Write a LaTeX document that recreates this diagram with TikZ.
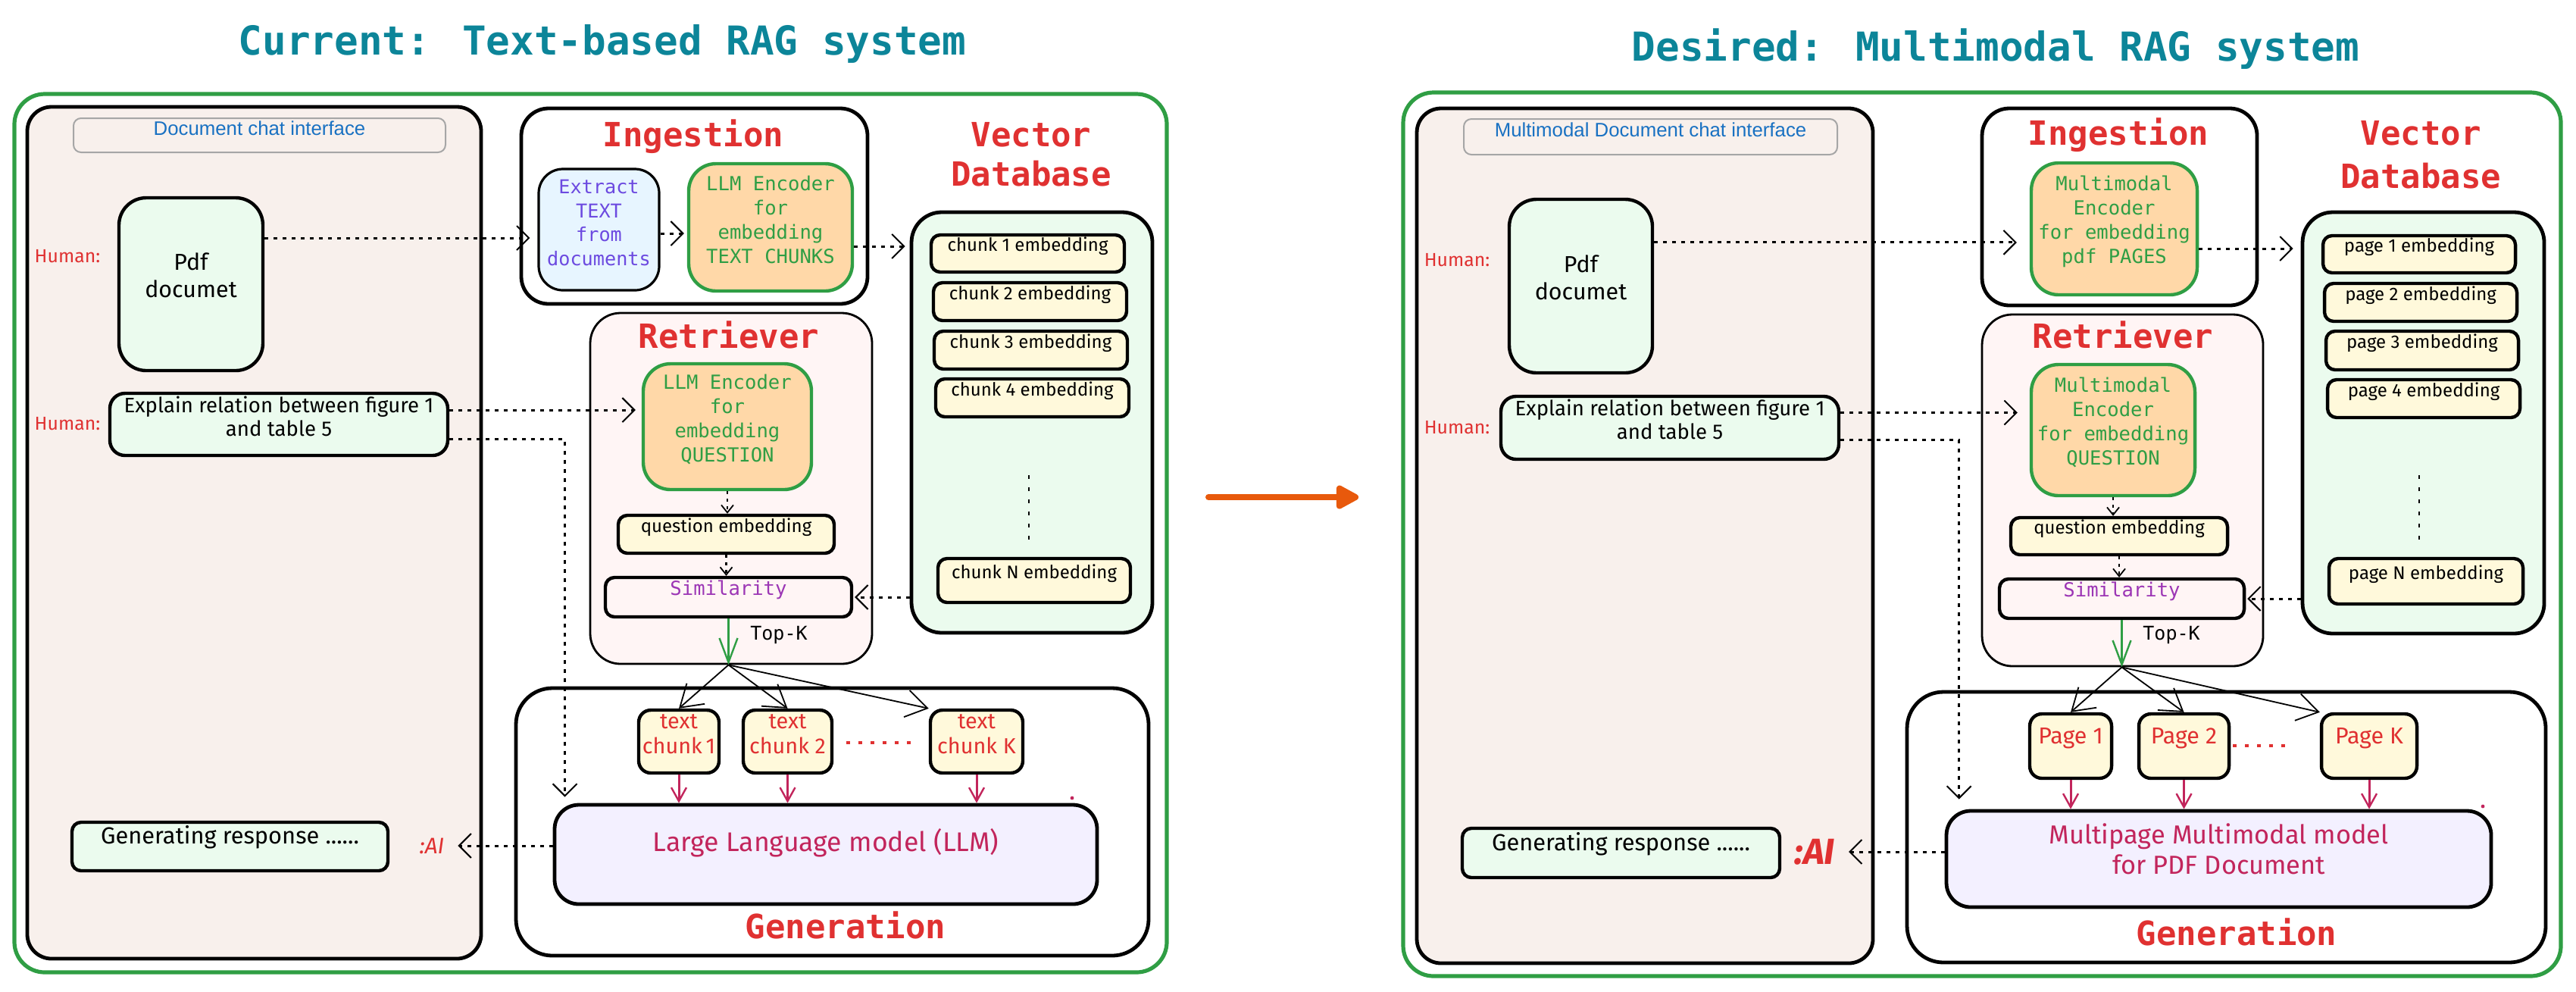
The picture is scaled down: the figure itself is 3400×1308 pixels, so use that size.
\documentclass[tikz,border=0pt]{standalone}
\usepackage{fontspec}
\setmainfont{Fira Sans}
\newfontfamily\hand{Fira Sans}
\newfontfamily\code{DejaVu Sans Mono}
\newfontfamily\ui{Liberation Sans}
\usetikzlibrary{fit,arrows.meta}
\definecolor{xgreen}{HTML}{2F9E44}
\definecolor{xteal}{HTML}{0C8599}
\definecolor{xred}{HTML}{E03131}
\definecolor{chatbg}{HTML}{F8F0EC}
\definecolor{lgreen}{HTML}{EBFBEE}
\definecolor{lblue}{HTML}{E7F5FF}
\definecolor{xviolet}{HTML}{6C4AE0}
\definecolor{orangefill}{HTML}{FFD8A8}
\definecolor{lyellow}{HTML}{FFF9DB}
\definecolor{pinkfill}{HTML}{FFF5F5}
\definecolor{xpurple}{HTML}{9C36B5}
\definecolor{lavender}{HTML}{F3F0FF}
\definecolor{xrose}{HTML}{C2255C}
\definecolor{uiblue}{HTML}{1971C2}
\definecolor{xorange}{HTML}{E8590C}
\begin{document}
\begin{tikzpicture}[x=0.25pt,y=-0.25pt,
  outer/.style={draw=xgreen,line width=1.3pt,rounded corners=10pt,inner sep=0pt},
  panel/.style={draw=black,fill=chatbg,line width=1.2pt,rounded corners=8pt,inner sep=0pt},
  uibox/.style={draw=gray!70,line width=0.5pt,rounded corners=2.5pt,inner sep=0pt,text=uiblue,font=\ui\fontsize{6.45}{8}\selectfont},
  hgreen/.style={draw=black,fill=lgreen,line width=1.1pt,inner sep=0pt,align=center,font=\hand\fontsize{6.9}{7.75}\selectfont},
  human/.style={text=xred,font=\hand\fontsize{6.2}{7}\selectfont},
  aitext/.style={text=xred,font=\hand\itshape\fontsize{7.4}{9}\selectfont},
  group/.style={draw=black,fill=white,line width=1.2pt,rounded corners=9pt,inner sep=0pt},
  heading/.style={text=xred,font=\code\bfseries\fontsize{11}{13.75}\selectfont},
  title/.style={text=xteal,font=\code\bfseries\fontsize{13.15}{16}\selectfont},
  extract/.style={draw=black,fill=lblue,line width=0.8pt,rounded corners=8pt,inner sep=0pt,align=center,text=xviolet,font=\code\fontsize{6.3}{7.9}\selectfont},
  enc/.style={draw=xgreen,fill=orangefill,line width=1.1pt,rounded corners=9pt,inner sep=0pt,align=center,text=xgreen,font=\code\fontsize{6.4}{8}\selectfont},
  vdb/.style={draw=black,fill=lgreen,line width=1.2pt,rounded corners=10pt,inner sep=0pt},
  chunk/.style={draw=black,fill=lyellow,line width=1.1pt,rounded corners=3pt,inner sep=0pt,font=\hand\fontsize{6.0}{8}\selectfont},
  retr/.style={draw=black,fill=pinkfill,line width=0.7pt,rounded corners=10pt,inner sep=0pt},
  sim/.style={draw=black,fill=pinkfill,line width=1.1pt,rounded corners=3pt,inner sep=0pt,text=xpurple,font=\code\fontsize{6.4}{8}\selectfont},
  topk/.style={text=black,font=\code\fontsize{6.25}{8}\selectfont},
  tchunk/.style={draw=black,fill=lyellow,line width=1.1pt,rounded corners=4pt,inner sep=0pt,align=center,text=xred,font=\hand\fontsize{7.2}{8.2}\selectfont},
  llm/.style={draw=black,fill=lavender,line width=1.2pt,rounded corners=8pt,inner sep=0pt,align=center,text=xrose,font=\hand\fontsize{8.9}{10}\selectfont},
  dotarrow/.style={draw=black,line width=0.75pt,dash pattern=on 1.25pt off 1.75pt,-{Straight Barb[length=4pt,width=8pt,line width=0.5pt]}},
  shortarrow/.style={draw=black,line width=0.6pt,dash pattern=on 1pt off 1.5pt,-{Straight Barb[length=2.5pt,width=4pt,line width=0.45pt]}},
  fanarrow/.style={draw=black,line width=0.45pt,-{Straight Barb[length=7pt,width=9pt,line width=0.45pt]}},
  redarrow/.style={draw=xrose,line width=0.75pt,-{Straight Barb[length=4.5pt,width=5pt,line width=0.6pt]}},
  greenarrow/.style={draw=xgreen,line width=0.6pt,-{Straight Barb[length=8pt,width=6pt,line width=0.6pt]}},
  vdots/.style={draw=black,line width=0.6pt,dash pattern=on 1.2pt off 2.8pt},
  reddots/.style={draw=xred,line width=1.2pt,dash pattern=on 1.2pt off 2.8pt},
  bigarrow/.style={draw=xorange,line width=2pt,line cap=round,-{Triangle[length=8.5pt,width=8.5pt,round]}}
]
\useasboundingbox (0,0) rectangle (3400,1308);

%================ LEFT =================
\node[outer, fit={(19,124) (1540,1283)}] (Lout) {};
\node[title, anchor=base] (Ltitle) at (795,72) {Current: Text-based RAG system};
\node[panel, fit={(36,141) (635,1265)}] (Lpanel) {};
\node[uibox, fit={(97,156) (588,201)}] (Lui) {Document chat interface};
\node[hgreen, rounded corners=9pt, font=\hand\fontsize{7.6}{9}\selectfont, fit={(157,261) (347,489)}] (Lpdf) {Pdf\\documet};
\node[human] (Lh1) at (89,338) {Human:};
\node[hgreen, rounded corners=5pt, fit={(145,519) (591,601)}] (Lexp) {Explain relation between figure 1\\and table 5};
\node[human] (Lh2) at (89,559) {Human:};
\node[hgreen, rounded corners=3pt, font=\hand\fontsize{7.7}{9}\selectfont, fit={(95,1085) (512,1149)}] (Lgen) {Generating response ......};
\node[aitext] (Lai) at (570,1116) {:AI};

\node[group, fit={(688,143) (1145,401)}] (Ling) {};
\node[heading, anchor=base] (Lingt) at (915,193) {Ingestion};
\node[extract, fit={(711,223) (870,383)}] (Lext) {Extract\\TEXT\\from\\documents};
\node[enc, fit={(909,216) (1125,384)}] (Lenc) {LLM Encoder\\for\\embedding\\TEXT CHUNKS};

\node[heading, anchor=base] (Lvt1) at (1361,193) {Vector};
\node[heading, anchor=base] (Lvt2) at (1361,245) {Database};
\node[vdb, fit={(1203,280) (1521,835)}] (Lvdb) {};
\node[chunk, fit={(1229,310) (1484,359)}] (Lc1) {chunk 1 embedding};
\node[chunk, fit={(1232,373) (1487,423)}] (Lc2) {chunk 2 embedding};
\node[chunk, fit={(1233,437) (1488,487)}] (Lc3) {chunk 3 embedding};
\node[chunk, fit={(1235,500) (1490,550)}] (Lc4) {chunk 4 embedding};
\node[chunk, fit={(1238,737) (1492,795)}] (LcN) {chunk N embedding};
\draw[vdots] (1358,627) -- (1358,717);

\node[retr, fit={(779,413) (1151,876)}] (Lret) {};
\node[heading, anchor=base] (Lrett) at (962,459) {Retriever};
\node[enc, fit={(849,480) (1071,646)}] (Lencq) {LLM Encoder\\for\\embedding\\QUESTION};
\node[chunk, fit={(816,680) (1101,730)}] (Lqe) {question embedding};
\node[sim, fit={(799,762) (1124,814)}] (Lsim) {Similarity};
\node[topk] (Ltopk) at (1028,838) {Top-K};

\node[group, rounded corners=12pt, fit={(681,908) (1516,1261)}] (Lgenr) {};
\node[heading, anchor=base] (Lgent) at (1116,1238) {Generation};
\node[tchunk, fit={(843,937) (949,1020)}] (Lch1) {text\\chunk\,1};
\node[tchunk, fit={(981,937) (1098,1020)}] (Lch2) {text\\chunk 2};
\node[tchunk, fit={(1228,937) (1350,1020)}] (Lchk) {text\\chunk K};
\draw[reddots] (1117,980) -- (1206,980);
\node[llm, fit={(732,1062) (1448,1193)}] (Lllm) {Large Language model (LLM)};
\fill[xrose] (1415,1053) circle (0.6pt);

% left connectors
\coordinate (Lp1) at ([yshift=15.25pt]Lpdf.east);
\draw[dotarrow, shorten >=2.5pt] (Lp1) -- (Lp1 -| Lext.west);
\coordinate (Lx1) at ([yshift=-1.25pt]Lext.east);
\draw[dotarrow, shorten >=1pt] (Lx1) -- (Lx1 -| Lenc.west);
\coordinate (Le1) at ([yshift=-6.25pt]Lenc.east);
\draw[dotarrow, shorten >=1.5pt] (Le1) -- (Le1 -| Lvdb.west);
\coordinate (Lq1) at ([yshift=4.75pt]Lexp.east);
\draw[dotarrow, shorten >=2pt] (Lq1) -- (Lq1 -| Lencq.west);
\coordinate (Lq2) at ([yshift=-4.75pt]Lexp.east);
\coordinate (Lq2e) at ([xshift=4pt,yshift=2pt]Lllm.north west);
\draw[dotarrow] (Lq2) -| (Lq2e);
\draw[dotarrow, shorten >=0.5pt] (Lvdb.west |- Lsim.east) -- (Lsim.east);
\draw[shortarrow] (Lencq.south) -- (Lencq.south |- Lqe.north);
\draw[shortarrow] (Lqe.south) -- (Lqe.south |- Lsim.north);
\coordinate (Lfan) at (Lsim.south |- Lret.south);
\draw[greenarrow] (Lsim.south) -- (Lfan);
\draw[fanarrow] (Lfan) -- (Lch1.north);
\draw[fanarrow] (Lfan) -- (Lch2.north);
\draw[fanarrow] (Lfan) -- (Lchk.north west);
\draw[redarrow] (Lch1.south) -- (Lch1.south |- Lllm.north);
\draw[redarrow] (Lch2.south) -- (Lch2.south |- Lllm.north);
\draw[redarrow] (Lchk.south) -- (Lchk.south |- Lllm.north);
\draw[dotarrow, shorten >=1pt] (Lllm.west |- Lai) -- (Lai.east);

%================ MIDDLE ARROW =================
\coordinate (Ma) at (1595,656);
\coordinate (Mb) at (1793,656);
\draw[bigarrow] (Ma) -- (Mb);

%================ RIGHT =================
\node[outer, fit={(1852,122) (3380,1288)}] (Rout) {};
\node[title, anchor=base] (Rtitle) at (2634,80) {Desired: Multimodal RAG system};
\node[panel, fit={(1870,143) (2472,1271)}] (Rpanel) {};
\node[uibox, fit={(1932,157) (2425,204)}] (Rui) {Multimodal Document chat interface};
\node[hgreen, rounded corners=9pt, font=\hand\fontsize{7.6}{9}\selectfont, fit={(1992,263) (2181,492)}] (Rpdf) {Pdf\\documet};
\node[human] (Rh1) at (1923,343) {Human:};
\node[hgreen, rounded corners=5pt, fit={(1981,523) (2427,606)}] (Rexp) {Explain relation between figure 1\\and table 5};
\node[human] (Rh2) at (1923,564) {Human:};
\node[hgreen, rounded corners=3pt, font=\hand\fontsize{7.7}{9}\selectfont, fit={(1930,1093) (2349,1158)}] (Rgen) {Generating response ......};
\node[aitext, font=\hand\itshape\bfseries\fontsize{12}{14}\selectfont] (Rai) at (2395,1124) {:AI};

\node[group, fit={(2616,143) (2979,403)}] (Ring) {};
\node[heading, anchor=base] (Ringt) at (2796,191) {Ingestion};
\node[enc, fit={(2681,215) (2900,389)}] (Renc) {Multimodal\\Encoder\\for embedding\\pdf PAGES};

\node[heading, anchor=base] (Rvt1) at (3195,191) {Vector};
\node[heading, anchor=base] (Rvt2) at (3195,248) {Database};
\node[vdb, fit={(3039,280) (3358,836)}] (Rvdb) {};
\node[chunk, fit={(3066,311) (3320,360)}] (Rc1) {page 1 embedding};
\node[chunk, fit={(3068,374) (3322,424)}] (Rc2) {page 2 embedding};
\node[chunk, fit={(3070,437) (3324,488)}] (Rc3) {page 3 embedding};
\node[chunk, fit={(3072,501) (3326,551)}] (Rc4) {page 4 embedding};
\node[chunk, fit={(3074,737) (3330,797)}] (RcN) {page N embedding};
\draw[vdots] (3193,627) -- (3193,717);

\node[retr, fit={(2616,415) (2987,879)}] (Rret) {};
\node[heading, anchor=base] (Rrett) at (2802,459) {Retriever};
\node[enc, fit={(2681,481) (2897,654)}] (Rencq) {Multimodal\\Encoder\\for embedding\\QUESTION};
\node[chunk, fit={(2654,683) (2940,732)}] (Rqe) {question embedding};
\node[sim, fit={(2639,764) (2962,816)}] (Rsim) {Similarity};
\node[topk] (Rtopk) at (2866,838) {Top-K};

\node[group, rounded corners=12pt, fit={(2517,913) (3360,1270)}] (Rgenr) {};
\node[heading, anchor=base] (Rgent) at (2952,1247) {Generation};
\node[tchunk, font=\hand\fontsize{7.6}{9}\selectfont, fit={(2679,942) (2787,1027)}] (Rch1) {Page 1};
\node[tchunk, font=\hand\fontsize{7.6}{9}\selectfont, fit={(2823,942) (2942,1027)}] (Rch2) {Page 2};
\node[tchunk, font=\hand\fontsize{7.6}{9}\selectfont, fit={(3064,942) (3190,1027)}] (Rchk) {Page K};
\draw[reddots] (2947,984) -- (3026,984);
\node[llm, font=\hand\fontsize{8.6}{10}\selectfont, fit={(2569,1070) (3288,1197)}] (Rllm) {Multipage Multimodal model\\for PDF Document};
\fill[xrose] (3277,1064) circle (0.6pt);

% right connectors
\coordinate (Rp1) at ([yshift=14.4pt]Rpdf.east);
\draw[dotarrow, shorten >=4.25pt] (Rp1) -- (Rp1 -| Renc.west);
\coordinate (Re1) at ([yshift=-6.5pt]Renc.east);
\draw[dotarrow, shorten >=2.5pt] (Re1) -- (Re1 -| Rvdb.west);
\coordinate (Rq1) at ([yshift=5pt]Rexp.east);
\draw[dotarrow, shorten >=4pt] (Rq1) -- (Rq1 -| Rencq.west);
\coordinate (Rq2) at ([yshift=-3.9pt]Rexp.east);
\coordinate (Rq2e) at ([xshift=4.75pt,yshift=3.25pt]Rllm.north west);
\draw[dotarrow] (Rq2) -| (Rq2e);
\draw[dotarrow, shorten >=0.5pt] (Rvdb.west |- Rsim.east) -- (Rsim.east);
\draw[shortarrow] (Rencq.south) -- (Rencq.south |- Rqe.north);
\draw[shortarrow] (Rqe.south) -- (Rqe.south |- Rsim.north);
\coordinate (Rfan) at (Rsim.south |- Rret.south);
\draw[greenarrow] (Rsim.south) -- (Rfan);
\draw[fanarrow] (Rfan) -- (Rch1.north);
\draw[fanarrow] (Rfan) -- (Rch2.north);
\draw[fanarrow] (Rfan) -- (Rchk.north west);
\draw[redarrow] (Rch1.south) -- (Rch1.south |- Rllm.north);
\draw[redarrow] (Rch2.south) -- (Rch2.south |- Rllm.north);
\draw[redarrow] (Rchk.south) -- (Rchk.south |- Rllm.north);
\draw[dotarrow, shorten >=1pt] (Rllm.west |- Rai) -- (Rai.east);
\end{tikzpicture}
\end{document}
